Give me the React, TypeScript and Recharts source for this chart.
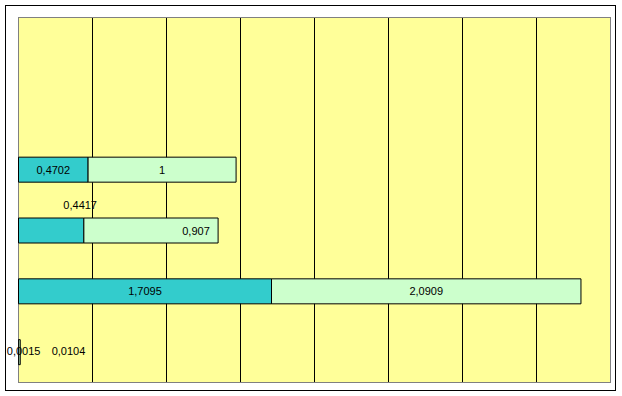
import { BarChart, Bar, XAxis, YAxis, CartesianGrid, LabelList, ReferenceArea } from 'recharts';

const categories = ['c6', 'c5', 'c4', 'c3', 'c2', 'c1'];
const tealValues = [null, null, 0.4702, 0.4417, 1.7095, 0.0015];
const greenValues = [null, null, 1, 0.907, 2.0909, 0.0104];
const xTicks = [0.5, 1, 1.5, 2, 2.5, 3, 3.5];

// label nudges from the segment centre, keyed by category (as placed in the original)
const tealNudge: Record<string, [number, number]> = { c3: [29, -26], c1: [5, -1] };
const greenNudge: Record<string, [number, number]> = { c3: [45, 0], c1: [49, -1] };

const data = categories.map((name, i) => ({
  name,
  teal: tealValues[i],
  green: greenValues[i],
}));

const fmt = (v: number) => String(v).replace('.', ',');

const makeLabel = (values: (number | null)[], nudge: Record<string, [number, number]>) => (props: any) => {
  const { x, y, width, height, value } = props;
  if (value == null) return null;
  const cat = categories[values.indexOf(value)];
  const [dx, dy] = nudge[cat] || [0, 0];
  return (
    <text
      x={Number(x) + Number(width) / 2 + dx}
      y={Number(y) + Number(height) / 2 + dy}
      textAnchor="middle"
      dominantBaseline="central"
      fontSize={11}
      fontFamily="'Liberation Sans', Arial, sans-serif"
      fill="#000"
    >
      {fmt(value)}
    </text>
  );
};

export default function App() {
  return (
    <div style={{ position: 'absolute', left: 0, top: 0, width: 622, height: 396, background: '#fff' }}>
      <div
        style={{
          position: 'absolute',
          left: 5,
          top: 5,
          width: 609,
          height: 384,
          border: '1px solid #000',
        }}
      />
      <div style={{ position: 'absolute', left: 0, top: 0 }}>
        <BarChart
          width={622}
          height={396}
          data={data}
          layout="vertical"
          barSize={25}
          margin={{ top: 17.5, right: 11.5, bottom: 13.5, left: 18.5 }}
        >
          <CartesianGrid horizontal={false} stroke="#000" fill="#FFFF99" fillOpacity={1} />
          <XAxis type="number" domain={[0, 4]} ticks={xTicks} hide />
          <YAxis type="category" dataKey="name" hide />
          <Bar dataKey="teal" stackId="s" fill="#33CCCC" stroke="#000" strokeWidth={1} isAnimationActive={false}>
            <LabelList dataKey="teal" content={makeLabel(tealValues, tealNudge)} />
          </Bar>
          <Bar dataKey="green" stackId="s" fill="#CCFFCC" stroke="#000" strokeWidth={1} isAnimationActive={false}>
            <LabelList dataKey="green" content={makeLabel(greenValues, greenNudge)} />
          </Bar>
          <ReferenceArea x1={0} x2={4} fill="none" stroke="#808080" strokeWidth={1} ifOverflow="visible" />
        </BarChart>
      </div>
    </div>
  );
}
